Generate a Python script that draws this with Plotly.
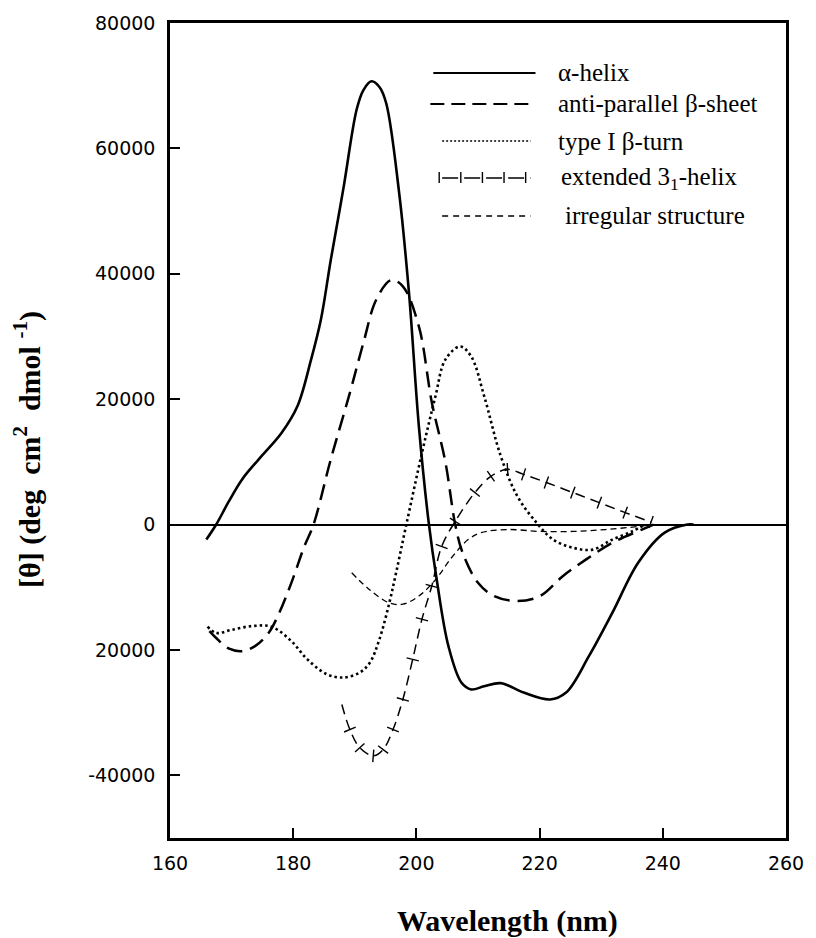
import numpy as np
import plotly.graph_objects as go

# ---------------- data ----------------
alpha_x = [165.9, 167.5, 169.5, 171.7, 174.4, 178.1, 180.7, 182.9, 184.5, 186.1, 188.2,
           190.3, 191.4, 192.7, 194.0, 195.1, 197.2, 198.8, 200.4, 202.0, 203.3, 205.2, 207.3, 208.9,
           211.0, 213.7, 217.4, 221.7, 224.3, 228.0, 231.8, 236.0, 240.3, 244.0, 245.0]
alpha_y = [-2400, 0, 3600, 7200, 10400, 14600, 18900, 26300, 32700, 42200, 53900,
           66200, 69300, 70700, 69800, 67200, 52900, 36900, 15700, 300, -8800, -19400, -25200, -26300,
           -25800, -25300, -26800, -27900, -26800, -21000, -14100, -6100, -1300, 0, 0]

beta_x = [166.4, 167.5, 169.6, 171.7, 173.8, 176.0, 177.5, 179.7, 181.8, 183.3, 186.1,
          189.2, 191.4, 193.5, 195.9, 197.8, 200.4, 202.5, 204.7, 206.3, 207.5, 210.0,
          212.6, 216.4, 220.1, 223.8, 227.5, 231.8, 236.6, 238.5]
beta_y = [-17000, -18100, -19800, -20200, -19400, -17300, -14600, -9300, -3500, 0, 10400,
          21000, 29000, 35900, 39000, 38000, 31600, 19500, 10000, 0, -4500, -9300,
          -11400, -12200, -11400, -8200, -5600, -2900, -800, 0]

turn_x = [166.1, 167.5, 170.0, 173.3, 176.5, 179.7, 182.3, 185.5, 188.2, 190.8, 192.4,
          194.0, 195.6, 196.7, 198.3, 200.9, 203.1, 204.7, 207.1, 208.9, 211.0, 213.7,
          216.4, 219.5, 222.2, 225.4, 228.6, 231.8, 235.0, 237.1]
turn_y = [-16300, -17300, -16800, -16200, -16300, -18600, -21500, -23900, -24400, -23600, -22100,
          -18300, -12500, -7700, -300, 11400, 20500, 26300, 28400, 26800, 20500, 10900,
          4500, 300, -2400, -3700, -4000, -2400, -1100, 0]

ext_x = [187.9, 189.2, 190.8, 193.0, 194.6, 196.2, 197.8, 199.4, 200.9, 202.5, 204.1,
         206.3, 209.5, 212.1, 214.8, 217.4, 221.1, 225.4, 229.7, 233.9, 238.1]
ext_y = [-28700, -32700, -35600, -36900, -35900, -32700, -27900, -21500, -15100, -9800, -3500,
         500, 5100, 7700, 8800, 8000, 6700, 5100, 3500, 1900, 400]

irr_x = [189.5, 192.4, 195.6, 197.8, 200.4, 203.1, 205.7, 208.4, 210.5, 214.8, 220.1,
         225.4, 230.7, 236.0, 238.1]
irr_y = [-7700, -10400, -12500, -12700, -11400, -8800, -5300, -2400, -1300, -800, -1100,
         -1100, -800, -300, 0]

series_names = ["α-helix", "anti-parallel β-sheet", "type I β-turn",
                "extended 3<sub>1</sub>-helix", "irregular structure"]

x_ticks = [160, 180, 200, 220, 240, 260]
y_ticks = [80000, 60000, 40000, 20000, 0, -20000, -40000]
y_tick_text = ["80000", "60000", "40000", "20000", "0", "20000", "-40000"]

x_range = [160, 260]
y_range = [-50000, 80000]

# ---------------- layout geometry ----------------
W, H = 816, 938
ML, MR, MT, MB = 170, 19, 23, 100
PW, PH = W - ML - MR, H - MT - MB

serif = "Liberation Serif, Times New Roman, serif"
sans = "DejaVu Sans, Arial, sans-serif"

styles = [
    dict(color="black", width=2.6, dash="solid"),
    dict(color="black", width=2.5, dash="16px,8px"),
    dict(color="black", width=2.6, dash="2.5px,3px"),
    dict(color="black", width=1.5, dash="10px,6px"),
    dict(color="black", width=1.3, dash="6px,4px"),
]

data = [(alpha_x, alpha_y), (beta_x, beta_y), (turn_x, turn_y), (ext_x, ext_y), (irr_x, irr_y)]

fig = go.Figure()
for (xs, ys), st, nm in zip(data, styles, series_names):
    fig.add_trace(go.Scatter(x=xs, y=ys, mode="lines", name=nm,
                             line=dict(color=st["color"], width=st["width"], dash=st["dash"],
                                       shape="spline", smoothing=1.0),
                             showlegend=False, hoverinfo="skip"))

# perpendicular tick marks on the extended 3_1-helix curve (angle from local slope in screen space)
px_per_x = PW / (x_range[1] - x_range[0])
px_per_y = PH / (y_range[1] - y_range[0])
ex = np.array(ext_x, dtype=float)
ey = np.array(ext_y, dtype=float)
dxs = np.gradient(ex) * px_per_x
dys = np.gradient(ey) * px_per_y
ang = -np.degrees(np.arctan2(dys, dxs))
fig.add_trace(go.Scatter(x=ext_x[1:], y=ext_y[1:], mode="markers", showlegend=False,
                         hoverinfo="skip",
                         marker=dict(symbol="line-ns", size=9, angle=list(ang[1:]),
                                     line=dict(color="black", width=1.4))))

# ---------------- hand-made legend (long samples, like the original) ----------------
def px2paper(px, py):
    return (px - ML) / PW, (MT + PH - py) / PH

leg_rows_y = [73, 104, 141, 178, 216]
leg_x0 = [438, 435, 447, 447, 447]
leg_x1 = [542, 535, 537, 537, 537]
leg_tx = [563, 563, 563, 566, 570]
leg_dash = ["solid", "14px,7px", "2px,2px", "16px,6px", "6px,5px"]
leg_width = [2.0, 2.0, 1.6, 1.5, 1.3]
shapes = []
annotations = []
for i, nm in enumerate(series_names):
    x0, y0 = px2paper(leg_x0[i], leg_rows_y[i])
    x1, _ = px2paper(leg_x1[i], leg_rows_y[i])
    shapes.append(dict(type="line", xref="paper", yref="paper", x0=x0, x1=x1, y0=y0, y1=y0,
                       line=dict(color="black", width=leg_width[i], dash=leg_dash[i])))
    if i == 3:
        for k in range(5):
            tx = leg_x0[i] + k * 22 - 3
            a, b0 = px2paper(tx, leg_rows_y[i] - 6)
            _, b1 = px2paper(tx, leg_rows_y[i] + 5)
            shapes.append(dict(type="line", xref="paper", yref="paper", x0=a, x1=a, y0=b0, y1=b1,
                               line=dict(color="black", width=1.4)))
    tx, ty = px2paper(leg_tx[i], leg_rows_y[i])
    annotations.append(dict(text=nm, xref="paper", yref="paper", x=tx, y=ty,
                            xanchor="left", yanchor="middle", showarrow=False,
                            font=dict(family=serif, size=25, color="black")))

# axis titles
annotations.append(dict(text="<b>Wavelength (nm)</b>", xref="paper", yref="paper",
                        x=(514 - ML) / PW, y=0, xanchor="center", yanchor="top",
                        yshift=-64, showarrow=False,
                        font=dict(family=serif, size=30, color="black")))
nb = "\u00a0"
annotations.append(dict(text="<b>[θ] (deg" + nb * 2 + "cm<sup>2</sup>" + nb * 2 + "dmol" + nb + "<sup>-1</sup>)</b>",
                        xref="paper", yref="paper", x=0, y=(MT + PH - 450) / PH,
                        xanchor="center", yanchor="middle", xshift=27 - ML,
                        textangle=-90, showarrow=False,
                        font=dict(family=serif, size=30, color="black")))

fig.update_layout(
    width=W, height=H,
    margin=dict(l=ML, r=MR, t=MT, b=MB, pad=0),
    paper_bgcolor="white", plot_bgcolor="white",
    showlegend=False,
    shapes=shapes, annotations=annotations,
    xaxis=dict(range=x_range, tickvals=x_ticks, ticks="inside", ticklen=10, tickwidth=1.5,
               tickcolor="black", showline=True, linecolor="black", linewidth=2.5,
               mirror=True, showgrid=False, zeroline=False,
               tickfont=dict(family=sans, size=19, color="black"),
               ticklabelstandoff=6),
    yaxis=dict(range=y_range, tickvals=y_ticks, ticktext=y_tick_text, ticks="inside",
               ticklen=10, tickwidth=1.5, tickcolor="black", showline=True,
               linecolor="black", linewidth=2.5, mirror=True, showgrid=False,
               zeroline=True, zerolinecolor="black", zerolinewidth=1.6,
               tickfont=dict(family=sans, size=19, color="black"),
               ticklabelstandoff=8),
)

fig.write_html("out.html")
